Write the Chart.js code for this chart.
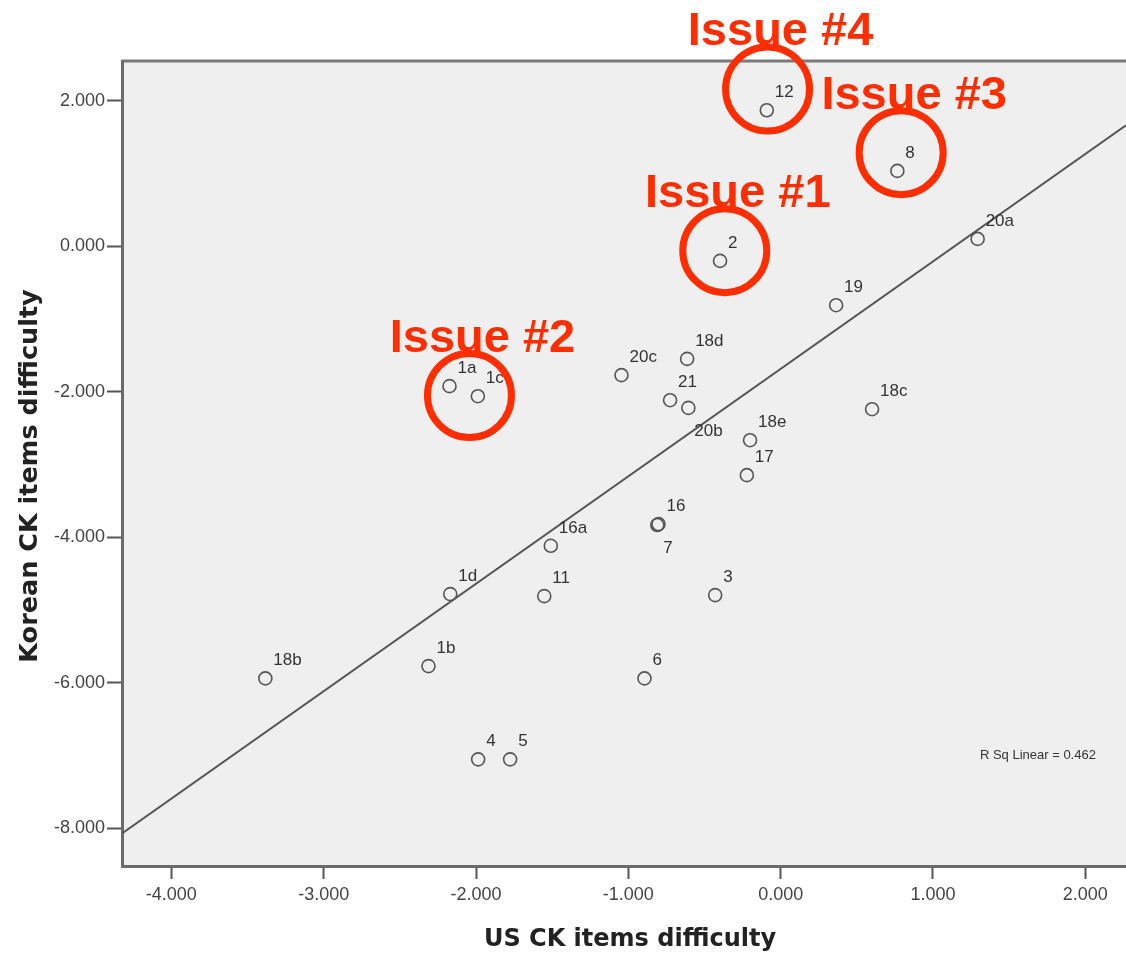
<!DOCTYPE html>
<html>
<head>
<meta charset="utf-8">
<script src="https://cdn.jsdelivr.net/npm/chart.js@4/dist/chart.umd.min.js"></script>
<style>
  html, body { margin: 0; padding: 0; background: #fff; }
  #wrap { width: 1126px; height: 954px; }
</style>
</head>
<body>
<div id="wrap"><canvas id="grafico" width="1126" height="954"></canvas></div>
<script>
"use strict";

// item labels and difficulties (US on x, Korean on y)
const items = ["12", "8", "2", "20a", "19", "18c", "1a", "1c", "20c", "18d", "21", "20b",
  "18e", "17", "16", "7", "16a", "1d", "11", "3", "18b", "1b", "6", "4", "5"];
const usDiff = [-0.091, 0.766, -0.398, 1.293, 0.364, 0.600, -2.174, -1.988, -1.045, -0.614, -0.726, -0.606,
  -0.201, -0.222, -0.802, -0.810, -1.509, -2.169, -1.552, -0.430, -3.383, -2.312, -0.894, -1.986, -1.776];
const krDiff = [1.872, 1.038, -0.199, 0.103, -0.808, -2.238, -1.921, -2.059, -1.770, -1.546, -2.114, -2.220,
  -2.664, -3.145, -3.818, -3.830, -4.116, -4.780, -4.808, -4.794, -5.939, -5.770, -5.939, -7.052, -7.052];

// linear fit line (ends read at the plot edges)
const fitX = [-4.324, 2.267];
const fitY = [-8.07, 1.665];
const rSq = "R Sq Linear = 0.462";

// axis ticks and titles
const xTicks = [-4, -3, -2, -1, 0, 1, 2];
const yTicks = [-8, -6, -4, -2, 0, 2];
const xTitulo = "US CK items difficulty";
const yTitulo = "Korean CK items difficulty";

// red call-outs (centre of the circle, in data units)
const issueNames = ["Issue #1", "Issue #2", "Issue #3", "Issue #4"];
const issueX = [-0.367, -2.043, 0.791, -0.086];
const issueY = [-0.058, -2.050, 1.289, 2.163];

// labels drawn below-right instead of above-right
const labelAbajo = ["20b", "7"];

const ROJO = "#ff2d00";
const FUENTE = "Arial, 'Liberation Sans', sans-serif";

const fondoPlugin = {
  id: "fondo",
  beforeDraw(chart) {
    const { ctx, chartArea: a } = chart;
    ctx.save();
    ctx.fillStyle = "#ffffff";
    ctx.fillRect(0, 0, chart.width, chart.height);
    ctx.fillStyle = "#efefef";
    ctx.fillRect(a.left, a.top, a.right - a.left, a.bottom - a.top);
    ctx.strokeStyle = "#7a7a7a";
    ctx.lineWidth = 3;
    ctx.beginPath();
    ctx.moveTo(a.left, a.top);
    ctx.lineTo(a.right, a.top);
    ctx.stroke();

    // axis titles
    ctx.fillStyle = "#222";
    ctx.font = "bold 24px 'DejaVu Sans', sans-serif";
    ctx.textAlign = "center";
    ctx.textBaseline = "alphabetic";
    ctx.fillText(xTitulo, 630, 946);
    ctx.translate(37, 476);
    ctx.rotate(-Math.PI / 2);
    ctx.font = "bold 25.5px 'DejaVu Sans', sans-serif";
    ctx.fillText(yTitulo, 0, 0);
    ctx.restore();
  }
};

const etiquetasPlugin = {
  id: "etiquetas",
  afterDraw(chart) {
    const { ctx } = chart;
    const xs = chart.scales.x, ys = chart.scales.y;
    ctx.save();

    // point labels
    ctx.font = "17px " + FUENTE;
    ctx.fillStyle = "#333";
    ctx.textAlign = "left";
    ctx.textBaseline = "alphabetic";
    items.forEach((it, i) => {
      const px = xs.getPixelForValue(usDiff[i]);
      const py = ys.getPixelForValue(krDiff[i]);
      if (labelAbajo.includes(it)) {
        ctx.fillText(it, px + 6, py + 28);
      } else {
        ctx.fillText(it, px + 8, py - 13);
      }
    });

    // R squared note
    ctx.font = "13px " + FUENTE;
    ctx.textBaseline = "middle";
    ctx.fillText(rSq, xs.getPixelForValue(1.308), ys.getPixelForValue(-6.993));

    // red call-outs
    ctx.strokeStyle = ROJO;
    ctx.fillStyle = ROJO;
    ctx.lineWidth = 7;
    ctx.font = "bold 47px " + FUENTE;
    ctx.textAlign = "center";
    ctx.textBaseline = "alphabetic";
    issueNames.forEach((t, i) => {
      const cx = xs.getPixelForValue(issueX[i]);
      const cy = ys.getPixelForValue(issueY[i]);
      ctx.beginPath();
      ctx.arc(cx, cy, 42, 0, Math.PI * 2);
      ctx.stroke();
      ctx.fillText(t, cx + 13, cy - 44);
    });
    ctx.restore();
  }
};

const ctx = document.getElementById("grafico").getContext("2d");

new Chart(ctx, {
  type: "scatter",
  data: {
    datasets: [
      {
        label: "Items",
        data: items.map((_, i) => ({ x: usDiff[i], y: krDiff[i] })),
        pointStyle: "circle",
        pointRadius: 6.5,
        borderWidth: 1.6,
        borderColor: "#555",
        backgroundColor: "rgba(0,0,0,0)"
      },
      {
        type: "line",
        label: "Fit",
        data: fitX.map((x, i) => ({ x: x, y: fitY[i] })),
        borderColor: "#555",
        borderWidth: 2,
        pointRadius: 0,
        fill: false
      }
    ]
  },
  options: {
    responsive: false,
    animation: false,
    layout: { autoPadding: false, padding: { top: 61, right: 0, bottom: 0, left: 0 } },
    plugins: {
      legend: { display: false },
      tooltip: { enabled: false }
    },
    scales: {
      x: {
        type: "linear",
        min: -4.324,
        max: 2.267,
        afterBuildTicks: s => { s.ticks = xTicks.map(v => ({ value: v })); },
        afterFit: s => { s.height = 88; s.paddingRight = 0; s.paddingLeft = 0; },
        ticks: {
          autoSkip: false,
          maxRotation: 0,
          padding: 5,
          color: "#444",
          font: { family: FUENTE, size: 18 },
          callback: v => v.toFixed(3)
        },
        grid: {
          drawOnChartArea: false,
          tickLength: 13,
          tickWidth: 2,
          tickColor: "#555"
        },
        border: { color: "#6b6b6b", width: 3 }
      },
      y: {
        type: "linear",
        min: -8.518,
        max: 2.549,
        afterBuildTicks: s => { s.ticks = yTicks.map(v => ({ value: v })); },
        afterFit: s => { s.width = 122; },
        ticks: {
          autoSkip: false,
          padding: 2,
          color: "#444",
          font: { family: FUENTE, size: 18 },
          callback: v => v.toFixed(3)
        },
        grid: {
          drawOnChartArea: false,
          tickLength: 15,
          tickWidth: 2,
          tickColor: "#555"
        },
        border: { color: "#6b6b6b", width: 3 }
      }
    }
  },
  plugins: [fondoPlugin, etiquetasPlugin]
});
</script>
</body>
</html>
